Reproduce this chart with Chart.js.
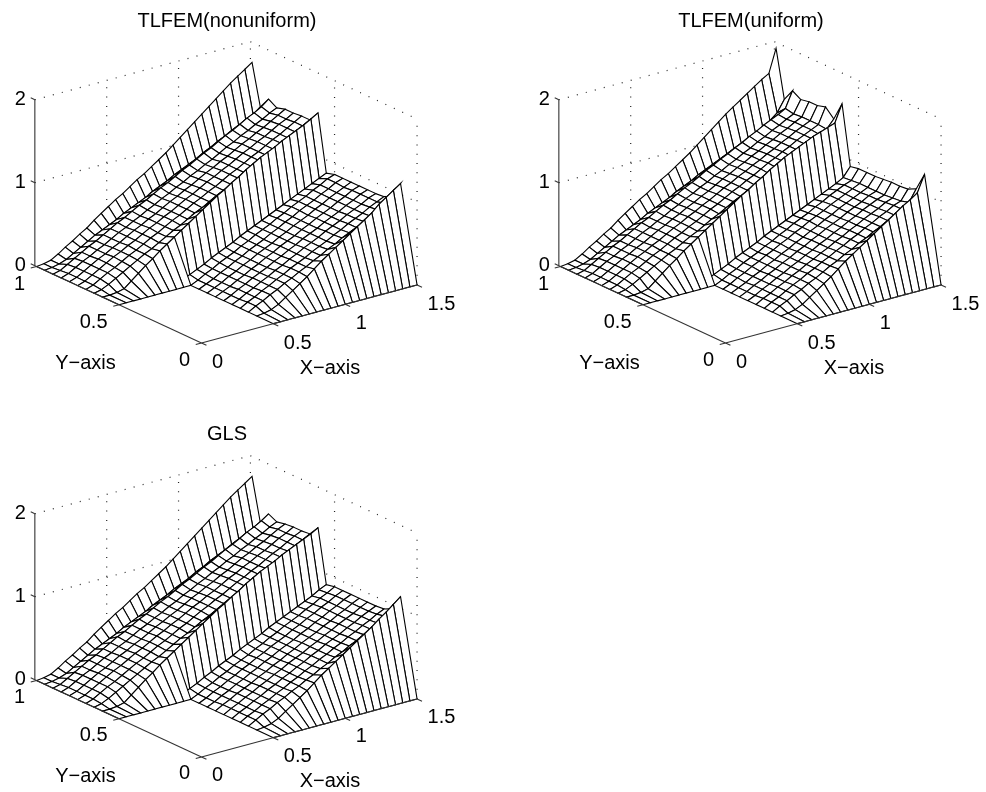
<!DOCTYPE html>
<html>
<head>
<meta charset="utf-8">
<title>TLFEM and GLS surfaces</title>
<script src="https://cdn.jsdelivr.net/npm/chart.js@4/dist/chart.umd.min.js"></script>
<style>
body { margin: 0; background: #fff; }
canvas { position: absolute; }
</style>
</head>
<body>
<canvas id="panel-1" width="463" height="396" style="left:0;top:0"></canvas>
<canvas id="panel-2" width="462" height="396" style="left:524px;top:0"></canvas>
<canvas id="panel-3" width="463" height="378" style="left:0;top:414px"></canvas>
<script>
const N = null;

const xGrid = [0,.05,.1,.15,.2,.25,.3,.35,.4,.45,.5,.55,.6,.65,.7,.75,.8,.85,.9,.95,1,1.05,1.1,1.15,1.2,1.25,1.3,1.35,1.4,1.45,1.5];
const yGrid = [0,.05,.1,.15,.2,.25,.3,.35,.4,.45,.5,.55,.6,.65,.7,.75,.8,.85,.9,.95,1];

const xTicks = [0, 0.5, 1, 1.5];
const yTicks = [0, 0.5, 1];
const zTicks = [0, 1, 2];

const titles = ['TLFEM(nonuniform)', 'TLFEM(uniform)', 'GLS'];
const xAxisLabel = 'X\u2212axis';
const yAxisLabel = 'Y\u2212axis';

// one row per yGrid value, one column per xGrid value
// null means no mesh node there (the walls are one cell wide)
const zNonuniform = [
[N,N,N,N,N,N,N,N,N,N,0,0,0,0,0,0,0,0,0,0,0,0,0,0,0,0,0,0,0,0,0],
[N,N,N,N,N,N,N,N,N,N,N,N,N,N,N,N,N,N,N,N,N,N,N,N,N,N,N,N,N,N,N],
[N,N,N,N,N,N,N,N,N,N,0,.01,.03,.07,.13,.19,.25,.31,.38,.45,.51,.57,.63,.69,.75,.81,.87,.95,1.01,1.07,1.13],
[N,N,N,N,N,N,N,N,N,N,0,.05,.09,.14,.18,.23,.27,.32,.36,.41,.45,.5,.54,.59,.63,.67,.72,.76,.81,.87,.93],
[N,N,N,N,N,N,N,N,N,N,0,.05,.09,.14,.18,.23,.27,.32,.36,.4,.45,.49,.53,.58,.62,.67,.71,.75,.8,.84,.88],
[N,N,N,N,N,N,N,N,N,N,0,.04,.09,.13,.18,.22,.27,.31,.36,.4,.45,.49,.53,.58,.62,.66,.71,.75,.79,.84,.87],
[N,N,N,N,N,N,N,N,N,N,0,.04,.09,.13,.18,.22,.26,.31,.35,.4,.44,.49,.53,.57,.62,.66,.7,.75,.79,.84,.87],
[N,N,N,N,N,N,N,N,N,N,0,.04,.08,.13,.17,.22,.26,.31,.35,.4,.44,.48,.53,.57,.62,.66,.7,.75,.79,.84,.87],
[N,N,N,N,N,N,N,N,N,N,0,.04,.08,.13,.17,.22,.26,.31,.35,.39,.44,.48,.53,.57,.61,.66,.7,.75,.79,.83,.87],
[N,N,N,N,N,N,N,N,N,N,0,.04,.08,.13,.17,.22,.26,.31,.35,.39,.44,.48,.53,.57,.62,.66,.7,.75,.79,.84,.87],
[0,0,0,0,0,0,0,0,0,0,0,.04,.09,.13,.18,.22,.26,.31,.35,.4,.44,.48,.53,.57,.62,.66,.7,.75,.79,.84,.87],
[N,N,N,N,N,N,N,N,N,N,.02,.06,.1,.14,.19,.23,.27,.31,.36,.4,.44,.48,.52,.56,.6,.64,.68,.72,.76,.8,.84],
[0,0,.01,.03,.1,.17,.24,.3,.37,.43,.49,.55,.61,.67,.73,.79,.85,.9,.96,1.01,1.07,1.12,1.17,1.21,1.25,1.3,1.34,1.38,1.42,1.47,1.52],
[0,.02,.06,.11,.16,.21,.26,.31,.35,.4,.45,.5,.54,.59,.64,.68,.73,.78,.82,.87,.92,.96,1.01,1.06,1.1,1.15,1.2,1.24,1.29,1.34,1.39],
[0,.03,.08,.13,.17,.22,.27,.31,.36,.41,.45,.5,.55,.59,.64,.69,.73,.78,.82,.87,.92,.96,1.01,1.06,1.1,1.15,1.2,1.24,1.29,1.34,1.39],
[0,.03,.08,.13,.18,.23,.27,.32,.36,.41,.46,.5,.55,.59,.64,.69,.73,.78,.83,.87,.92,.96,1.01,1.06,1.1,1.15,1.19,1.24,1.29,1.33,1.38],
[0,.03,.08,.13,.18,.22,.27,.31,.36,.41,.45,.5,.54,.59,.64,.68,.73,.77,.82,.87,.91,.96,1,1.05,1.1,1.14,1.19,1.23,1.28,1.33,1.38],
[0,.03,.08,.13,.17,.22,.26,.31,.36,.4,.45,.49,.54,.58,.63,.67,.72,.76,.81,.85,.9,.94,.99,1.04,1.08,1.13,1.17,1.22,1.26,1.31,1.35],
[0,.02,.07,.12,.17,.22,.26,.31,.36,.41,.45,.5,.55,.59,.64,.69,.73,.78,.83,.87,.92,.97,1.01,1.06,1.11,1.15,1.2,1.25,1.29,1.34,1.41],
[0,.01,.03,.06,.11,.16,.21,.26,.3,.34,.38,.43,.47,.51,.55,.6,.64,.68,.73,.77,.81,.85,.9,.94,.99,1.03,1.08,1.11,1.15,1.2,1.27],
[0,.01,.03,.08,.14,.19,.25,.3,.37,.43,.49,.55,.6,.66,.72,.77,.83,.89,.95,1.02,1.09,1.16,1.23,1.3,1.37,1.44,1.51,1.58,1.64,1.7,1.76]
];

const zUniform = [
[N,N,N,N,N,N,N,N,N,N,0,0,0,0,0,0,0,0,0,0,0,0,0,0,0,0,0,0,0,0,0],
[N,N,N,N,N,N,N,N,N,N,N,N,N,N,N,N,N,N,N,N,N,N,N,N,N,N,N,N,N,N,N],
[N,N,N,N,N,N,N,N,N,N,0,.01,.03,.07,.13,.19,.25,.31,.38,.45,.51,.57,.63,.69,.75,.81,.87,.93,.98,1.04,1.24],
[N,N,N,N,N,N,N,N,N,N,0,.05,.09,.14,.18,.23,.27,.32,.37,.41,.46,.5,.55,.59,.64,.68,.73,.77,.82,.88,1.02],
[N,N,N,N,N,N,N,N,N,N,0,.05,.09,.14,.19,.23,.28,.32,.37,.41,.46,.5,.55,.59,.64,.68,.73,.77,.82,.85,.97],
[N,N,N,N,N,N,N,N,N,N,0,.05,.09,.14,.18,.23,.27,.32,.36,.41,.45,.5,.54,.59,.63,.68,.72,.76,.81,.84,.96],
[N,N,N,N,N,N,N,N,N,N,0,.04,.09,.13,.18,.22,.27,.31,.36,.4,.45,.49,.54,.58,.63,.67,.72,.76,.8,.83,.96],
[N,N,N,N,N,N,N,N,N,N,0,.04,.09,.13,.18,.22,.27,.31,.36,.4,.45,.49,.54,.58,.62,.67,.71,.75,.8,.83,.95],
[N,N,N,N,N,N,N,N,N,N,0,.04,.08,.13,.17,.22,.26,.31,.35,.4,.44,.49,.53,.58,.62,.67,.71,.75,.79,.83,.94],
[N,N,N,N,N,N,N,N,N,N,0,.04,.09,.13,.18,.22,.27,.31,.36,.4,.45,.49,.54,.58,.62,.67,.71,.75,.79,.83,.94],
[0,0,0,0,0,0,0,0,0,0,0,.04,.09,.13,.18,.22,.26,.31,.35,.4,.44,.49,.53,.57,.62,.66,.71,.75,.79,.82,.94],
[N,N,N,N,N,N,N,N,N,N,.02,.06,.1,.14,.19,.23,.27,.31,.36,.4,.44,.48,.52,.56,.6,.64,.68,.72,.76,.81,.92],
[0,0,.01,.03,.1,.17,.24,.3,.37,.43,.49,.55,.61,.67,.73,.79,.85,.9,.96,1.01,1.07,1.12,1.17,1.21,1.25,1.29,1.33,1.36,1.39,1.42,1.63],
[0,.02,.06,.11,.16,.21,.26,.31,.35,.4,.45,.49,.54,.59,.63,.68,.73,.77,.82,.86,.91,.95,1,1.05,1.09,1.14,1.19,1.23,1.26,1.3,1.4],
[0,.03,.08,.13,.17,.22,.27,.31,.36,.41,.45,.5,.54,.59,.64,.68,.73,.78,.82,.87,.91,.96,1.01,1.05,1.1,1.14,1.19,1.23,1.27,1.31,1.5],
[0,.03,.08,.13,.18,.23,.27,.32,.36,.41,.46,.5,.55,.59,.64,.68,.73,.78,.82,.87,.91,.96,1,1.05,1.09,1.14,1.18,1.23,1.27,1.31,1.47],
[0,.03,.08,.13,.18,.22,.27,.31,.36,.41,.45,.5,.54,.59,.63,.68,.72,.77,.82,.86,.91,.95,1,1.04,1.09,1.13,1.18,1.22,1.27,1.31,1.47],
[0,.03,.08,.13,.17,.22,.26,.31,.36,.4,.45,.49,.54,.58,.63,.67,.72,.76,.81,.85,.9,.94,.99,1.03,1.08,1.12,1.17,1.21,1.26,1.3,1.45],
[0,.02,.07,.12,.17,.22,.26,.31,.36,.41,.45,.5,.55,.59,.64,.69,.73,.78,.83,.87,.92,.96,1.01,1.05,1.1,1.14,1.19,1.23,1.27,1.32,1.51],
[0,.01,.03,.06,.11,.16,.21,.26,.3,.34,.38,.43,.47,.51,.55,.6,.64,.68,.73,.77,.81,.85,.89,.93,.97,1,1.04,1.09,1.15,1.22,1.36],
[0,.01,.03,.08,.14,.19,.25,.3,.37,.43,.49,.55,.6,.66,.72,.77,.83,.89,.95,1.02,1.09,1.16,1.23,1.3,1.36,1.42,1.48,1.54,1.6,1.65,1.93]
];

const zGls = [
[N,N,N,N,N,N,N,N,N,N,0,0,0,0,0,0,0,0,0,0,0,0,0,0,0,0,0,0,0,0,0],
[N,N,N,N,N,N,N,N,N,N,N,N,N,N,N,N,N,N,N,N,N,N,N,N,N,N,N,N,N,N,N],
[N,N,N,N,N,N,N,N,N,N,0,.01,.03,.07,.13,.19,.25,.31,.38,.45,.51,.57,.63,.69,.75,.81,.87,.94,1,1.07,1.14],
[N,N,N,N,N,N,N,N,N,N,0,.05,.1,.14,.19,.23,.28,.32,.37,.41,.46,.5,.55,.59,.64,.68,.73,.77,.82,.88,.95],
[N,N,N,N,N,N,N,N,N,N,0,.05,.09,.14,.18,.23,.27,.32,.36,.41,.45,.5,.54,.59,.63,.68,.72,.77,.81,.86,.9],
[N,N,N,N,N,N,N,N,N,N,0,.05,.09,.14,.18,.23,.27,.32,.36,.41,.45,.5,.54,.59,.63,.67,.72,.76,.81,.85,.89],
[N,N,N,N,N,N,N,N,N,N,0,.05,.09,.14,.18,.23,.27,.32,.36,.41,.45,.49,.54,.58,.63,.67,.72,.76,.8,.85,.89],
[N,N,N,N,N,N,N,N,N,N,0,.05,.09,.14,.18,.22,.27,.31,.36,.4,.45,.49,.54,.58,.62,.67,.71,.76,.8,.85,.89],
[N,N,N,N,N,N,N,N,N,N,0,.04,.09,.13,.18,.22,.27,.31,.36,.4,.45,.49,.53,.58,.62,.67,.71,.76,.8,.85,.89],
[N,N,N,N,N,N,N,N,N,N,0,.04,.09,.13,.18,.22,.27,.31,.36,.4,.45,.49,.53,.58,.62,.67,.71,.76,.8,.85,.89],
[0,0,0,0,0,0,0,0,0,0,0,.04,.09,.13,.18,.22,.27,.31,.35,.4,.44,.49,.53,.58,.62,.66,.71,.75,.8,.84,.89],
[N,N,N,N,N,N,N,N,N,N,.02,.06,.1,.15,.19,.24,.28,.32,.37,.41,.45,.49,.54,.58,.62,.66,.7,.74,.78,.83,.87],
[0,0,.01,.03,.1,.17,.24,.3,.37,.43,.49,.55,.61,.67,.73,.79,.85,.9,.96,1.01,1.07,1.12,1.17,1.21,1.25,1.3,1.34,1.38,1.42,1.46,1.51],
[0,.02,.06,.11,.16,.21,.26,.31,.36,.4,.45,.5,.55,.59,.64,.69,.73,.78,.83,.87,.92,.97,1.01,1.06,1.11,1.15,1.2,1.25,1.29,1.34,1.39],
[0,.03,.08,.13,.17,.22,.27,.32,.36,.41,.46,.5,.55,.6,.64,.69,.74,.78,.83,.87,.92,.97,1.01,1.06,1.1,1.15,1.2,1.24,1.29,1.34,1.38],
[0,.03,.08,.13,.18,.23,.27,.32,.37,.41,.46,.51,.55,.6,.64,.69,.74,.78,.83,.87,.92,.97,1.01,1.06,1.1,1.15,1.19,1.24,1.29,1.33,1.38],
[0,.03,.08,.13,.18,.22,.27,.32,.36,.41,.45,.5,.55,.59,.64,.68,.73,.78,.82,.87,.91,.96,1,1.05,1.1,1.14,1.19,1.23,1.28,1.33,1.37],
[0,.03,.08,.13,.17,.22,.27,.31,.36,.4,.45,.5,.54,.59,.63,.68,.72,.77,.81,.86,.9,.95,.99,1.04,1.08,1.13,1.17,1.22,1.26,1.31,1.35],
[0,.02,.07,.12,.17,.22,.26,.31,.36,.41,.45,.5,.55,.59,.64,.69,.73,.78,.83,.87,.92,.97,1.01,1.06,1.11,1.15,1.2,1.25,1.29,1.34,1.4],
[0,.01,.03,.06,.11,.16,.21,.26,.3,.34,.38,.43,.47,.51,.55,.6,.64,.68,.73,.77,.81,.86,.9,.95,.99,1.03,1.08,1.12,1.16,1.2,1.25],
[0,.01,.03,.08,.14,.19,.25,.3,.37,.43,.49,.55,.6,.66,.72,.77,.83,.89,.95,1.02,1.09,1.16,1.23,1.3,1.37,1.44,1.51,1.58,1.64,1.7,1.76]
];

const surfaces = [zNonuniform, zUniform, zGls];
const titleRows = [21.5, 21.5, 20];
const labelShifts = [0, 0, -1];

// MATLAB style view of the box, gives page pixels inside one panel
function project(x, y, z) {
    return { x: 201.5 + 143.7 * x - 165 * y, y: 343 - 38.7 * x - 76.5 * y - 83 * z };
}

const xMax = 1.5, yMax = 1.01, zMax = 2;

function lineSet(points, extra) {
    return Object.assign({
        data: points,
        showLine: true,
        pointRadius: 0,
        borderColor: '#000',
        borderWidth: 1,
        fill: false
    }, extra);
}

function gridSets() {
    const dotted = { borderColor: '#222', borderWidth: 1.2, borderDash: [1, 8.3] };
    const sets = [];
    zTicks.slice(1).forEach(z => {
        sets.push(lineSet([project(0, yMax, z), project(xMax, yMax, z)], dotted));
        sets.push(lineSet([project(xMax, yMax, z), project(xMax, 0, z)], dotted));
    });
    xTicks.slice(1).forEach(x => {
        sets.push(lineSet([project(x, yMax, 0), project(x, yMax, zMax)], dotted));
    });
    [0, 0.5].forEach(y => {
        sets.push(lineSet([project(xMax, y, 0), project(xMax, y, zMax)], dotted));
    });
    return sets;
}

function axisSets() {
    const solid = { borderColor: '#333', borderWidth: 1.1 };
    const sets = [
        lineSet([project(0, 0, 0), project(xMax, 0, 0)], solid),
        lineSet([project(0, 0, 0), project(0, yMax, 0)], solid),
        lineSet([project(0, yMax, 0), project(0, yMax, zMax)], solid)
    ];
    xTicks.forEach(x => sets.push(lineSet([project(x, 0, 0), project(x, -0.03, 0)], solid)));
    yTicks.forEach(y => sets.push(lineSet([project(0, y, 0), project(-0.04, y, 0)], solid)));
    zTicks.forEach(z => sets.push(lineSet([project(0, yMax, z), project(0, yMax + 0.025, z)], solid)));
    return sets;
}

// the row above j in columns i and i+1, skipping rows without nodes there
function nextRow(z, j, i) {
    for (let k = j + 1; k < z.length; k++) {
        if (z[k][i] !== null && z[k][i + 1] !== null) return k;
    }
    return -1;
}

// datasets are painted last to first, so the cells nearest the viewer come first
function meshSets(z) {
    const sets = [];
    for (let j = 0; j < yGrid.length - 1; j++) {
        for (let i = 0; i < xGrid.length - 1; i++) {
            if (z[j][i] === null || z[j][i + 1] === null) continue;
            const k = nextRow(z, j, i);
            if (k < 0) continue;
            sets.push(lineSet([
                project(xGrid[i], yGrid[j], z[j][i]),
                project(xGrid[i + 1], yGrid[j], z[j][i + 1]),
                project(xGrid[i + 1], yGrid[k], z[k][i + 1]),
                project(xGrid[i], yGrid[k], z[k][i]),
                project(xGrid[i], yGrid[j], z[j][i])
            ], { fill: 'shape', backgroundColor: '#fff', borderWidth: 1.1 }));
        }
    }
    return sets;
}

const panelText = {
    id: 'panelText',
    afterDraw(chart, args, opts) {
        const ctx = chart.ctx;
        const shift = opts.shift;
        ctx.save();
        ctx.fillStyle = '#000';
        ctx.font = '20px "Liberation Sans"';
        ctx.textBaseline = 'middle';
        ctx.textAlign = 'center';
        ctx.fillText(opts.title, 227, opts.titleY);
        ctx.fillText(yAxisLabel, 85.5, 363 + shift);
        ctx.fillText(xAxisLabel, 330, 368.5 + shift);
        ctx.textAlign = 'left';
        xTicks.forEach(x => {
            const p = project(x, 0, 0);
            ctx.fillText(String(x), p.x + 10.5, p.y + 19.5 + shift);
        });
        ctx.textAlign = 'right';
        yTicks.forEach(y => {
            const p = project(0, y, 0);
            ctx.fillText(String(y), p.x - 11.5, p.y + 17.5 + shift);
        });
        zTicks.forEach(z => {
            const p = project(0, yMax, z);
            ctx.fillText(String(z), p.x - 9, p.y);
        });
        ctx.restore();
    }
};

surfaces.forEach((z, k) => {
    const canvas = document.getElementById('panel-' + (k + 1));
    new Chart(canvas, {
        type: 'scatter',
        data: { datasets: axisSets().concat(meshSets(z), gridSets()) },
        options: {
            responsive: false,
            animation: false,
            events: [],
            layout: { padding: 0 },
            scales: {
                x: { type: 'linear', display: false, min: 0, max: canvas.width },
                y: { type: 'linear', display: false, min: 0, max: canvas.height, reverse: true }
            },
            plugins: {
                legend: { display: false },
                tooltip: { enabled: false },
                panelText: { title: titles[k], titleY: titleRows[k], shift: labelShifts[k] }
            }
        },
        plugins: [panelText]
    });
});
</script>
</body>
</html>
